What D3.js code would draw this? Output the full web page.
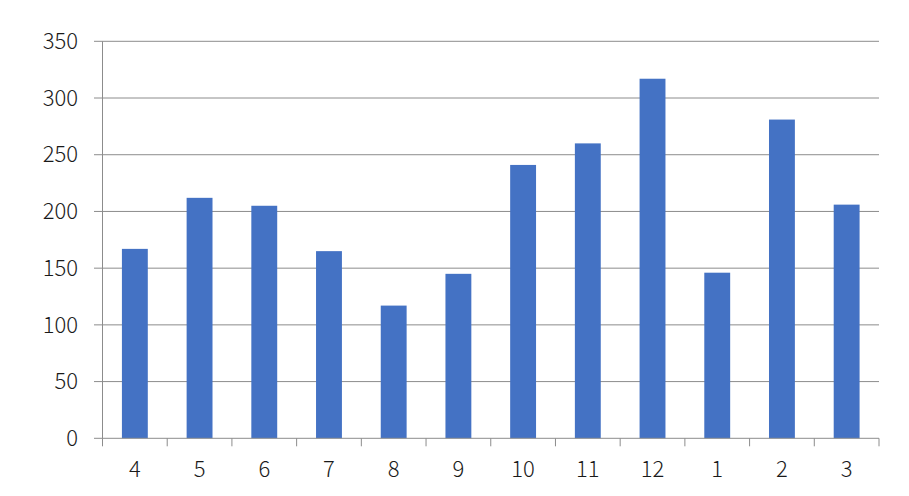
<!DOCTYPE html>
<html><head><meta charset="utf-8">
<script src="https://cdn.jsdelivr.net/npm/d3@7"></script>
<style>body{margin:0;background:#fff}svg{display:block}</style>
</head><body>
<svg id="c" width="909" height="496"></svg>
<script>
const categories = ["4","5","6","7","8","9","10","11","12","1","2","3"];
const values = [167,212,205,165,117,145,241,260,317,146,281,206];
const yTicks = [0,50,100,150,200,250,300,350];

(function(){
const svg = d3.select("#c");
const mL = 102.5, mR = 879, mT = 41.3, mB = 438.3;
const x = d3.scaleBand().domain(categories).range([mL, mR]).paddingInner(0.6).paddingOuter(0.3);
const y = d3.scaleLinear().domain([0,350]).range([mB, mT]);
const font = "'Noto Sans CJK JP', 'Noto Sans', sans-serif";
const grid = "#8c8c8c";

svg.append("g").selectAll("line").data(yTicks.filter(d=>d>0)).join("line")
  .attr("x1", 94).attr("x2", mR)
  .attr("y1", d=>y(d)).attr("y2", d=>y(d))
  .attr("stroke", grid).attr("stroke-width", 1);

svg.append("g").selectAll("rect").data(values).join("rect")
  .attr("x", (d,i)=>x(categories[i]))
  .attr("width", x.bandwidth())
  .attr("y", d=>y(d))
  .attr("height", d=>y(0)-y(d))
  .attr("fill", "#4472C4");

svg.append("line").attr("x1", mL).attr("x2", mL).attr("y1", mT).attr("y2", mB)
  .attr("stroke", grid);
svg.append("line").attr("x1", 94).attr("x2", mR).attr("y1", mB).attr("y2", mB)
  .attr("stroke", grid);

const bounds = d3.range(categories.length+1).map(i => mL + i*(mR-mL)/categories.length);
svg.append("g").selectAll("line").data(bounds).join("line")
  .attr("x1", d=>d).attr("x2", d=>d).attr("y1", mB).attr("y2", mB+8)
  .attr("stroke", grid);

svg.append("g").selectAll("text").data(yTicks).join("text")
  .attr("x", 78).attr("y", d=>y(d)).attr("dy", "0.35em")
  .attr("text-anchor", "end")
  .attr("font-family", font).attr("font-size", 22).attr("font-weight", 300).attr("fill", "#1a1a1a")
  .text(d=>d);

svg.append("g").selectAll("text").data(categories).join("text")
  .attr("x", d=>x(d)+x.bandwidth()/2).attr("y", 469).attr("dy", "0.35em")
  .attr("text-anchor", "middle")
  .attr("font-family", font).attr("font-size", 22).attr("font-weight", 300).attr("fill", "#1a1a1a")
  .text(d=>d);
})();
</script>
</body></html>
